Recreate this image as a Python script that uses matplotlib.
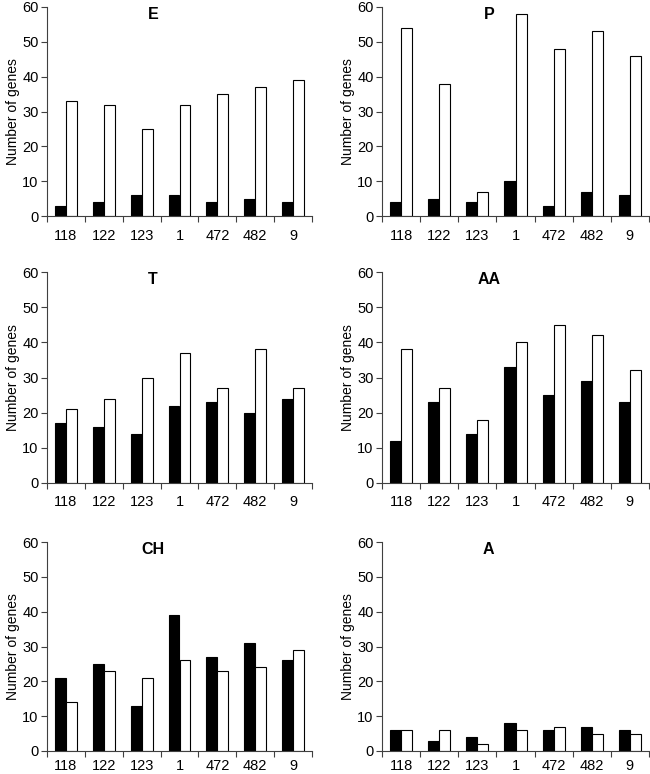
import numpy as np
import matplotlib
matplotlib.use("Agg")
import matplotlib.pyplot as plt
import matplotlib.ticker as mticker

plt.rcParams['font.family'] = ['Liberation Sans', 'DejaVu Sans']

strains = ['118', '122', '123', '1', '472', '482', '9']
titles = ['E', 'P', 'T', 'AA', 'CH', 'A']

# black bars / white bars per panel
E_black = [3, 4, 6, 6, 4, 5, 4]
E_white = [33, 32, 25, 32, 35, 37, 39]
P_black = [4, 5, 4, 10, 3, 7, 6]
P_white = [54, 38, 7, 58, 48, 53, 46]
T_black = [17, 16, 14, 22, 23, 20, 24]
T_white = [21, 24, 30, 37, 27, 38, 27]
AA_black = [12, 23, 14, 33, 25, 29, 23]
AA_white = [38, 27, 18, 40, 45, 42, 32]
CH_black = [21, 25, 13, 39, 27, 31, 26]
CH_white = [14, 23, 21, 26, 23, 24, 29]
A_black = [6, 3, 4, 8, 6, 7, 6]
A_white = [6, 6, 2, 6, 7, 5, 5]

black_sets = [E_black, P_black, T_black, AA_black, CH_black, A_black]
white_sets = [E_white, P_white, T_white, AA_white, CH_white, A_white]

fig = plt.figure(figsize=(6.5, 7.74), dpi=100, facecolor='white')

# axes boxes in pixels of the 650x774 picture
col_left = [47 / 650, 382 / 650]
col_w = [265 / 650, 267 / 650]
row_top = [7, 272, 542]
row_bot = [216, 483, 751]

spine_col = '#404040'
w = 0.29
x = np.arange(len(strains))

for k in range(6):
    r, c = divmod(k, 2)
    b = 1 - row_bot[r] / 774
    h = (row_bot[r] - row_top[r]) / 774
    ax = fig.add_axes([col_left[c], b, col_w[c], h])

    ax.bar(x - w / 2, black_sets[k], w, color='black', edgecolor='black', linewidth=0.8)
    ax.bar(x + w / 2, white_sets[k], w, color='white', edgecolor='black', linewidth=0.8)

    ax.set_xlim(-0.5, len(strains) - 0.5)
    ax.set_ylim(0, 60)
    ax.yaxis.set_major_locator(mticker.MultipleLocator(10))
    ax.set_xticks(x)
    ax.set_xticklabels(strains, fontsize=10.5)
    ax.set_xticks(np.arange(-0.5, len(strains)), minor=True)
    ax.tick_params(axis='x', which='major', length=0, pad=9 if r < 2 else 6)
    ax.tick_params(axis='x', which='minor', length=4, width=0.8, color=spine_col, direction='out')
    ax.tick_params(axis='y', length=4, width=0.8, color=spine_col, labelsize=10.5, pad=2)

    for s in ['top', 'right']:
        ax.spines[s].set_visible(False)
    for s in ['left', 'bottom']:
        ax.spines[s].set_color(spine_col)
        ax.spines[s].set_linewidth(0.8)

    ax.set_ylabel('Number of genes', fontsize=10, labelpad=2)
    ax.text(0.40, 0.998, titles[k], transform=ax.transAxes, ha='center', va='top',
            fontsize=11.5, fontweight='bold')
    ax.patch.set_visible(False)

fig.savefig('out.png', dpi=100, facecolor='white')
